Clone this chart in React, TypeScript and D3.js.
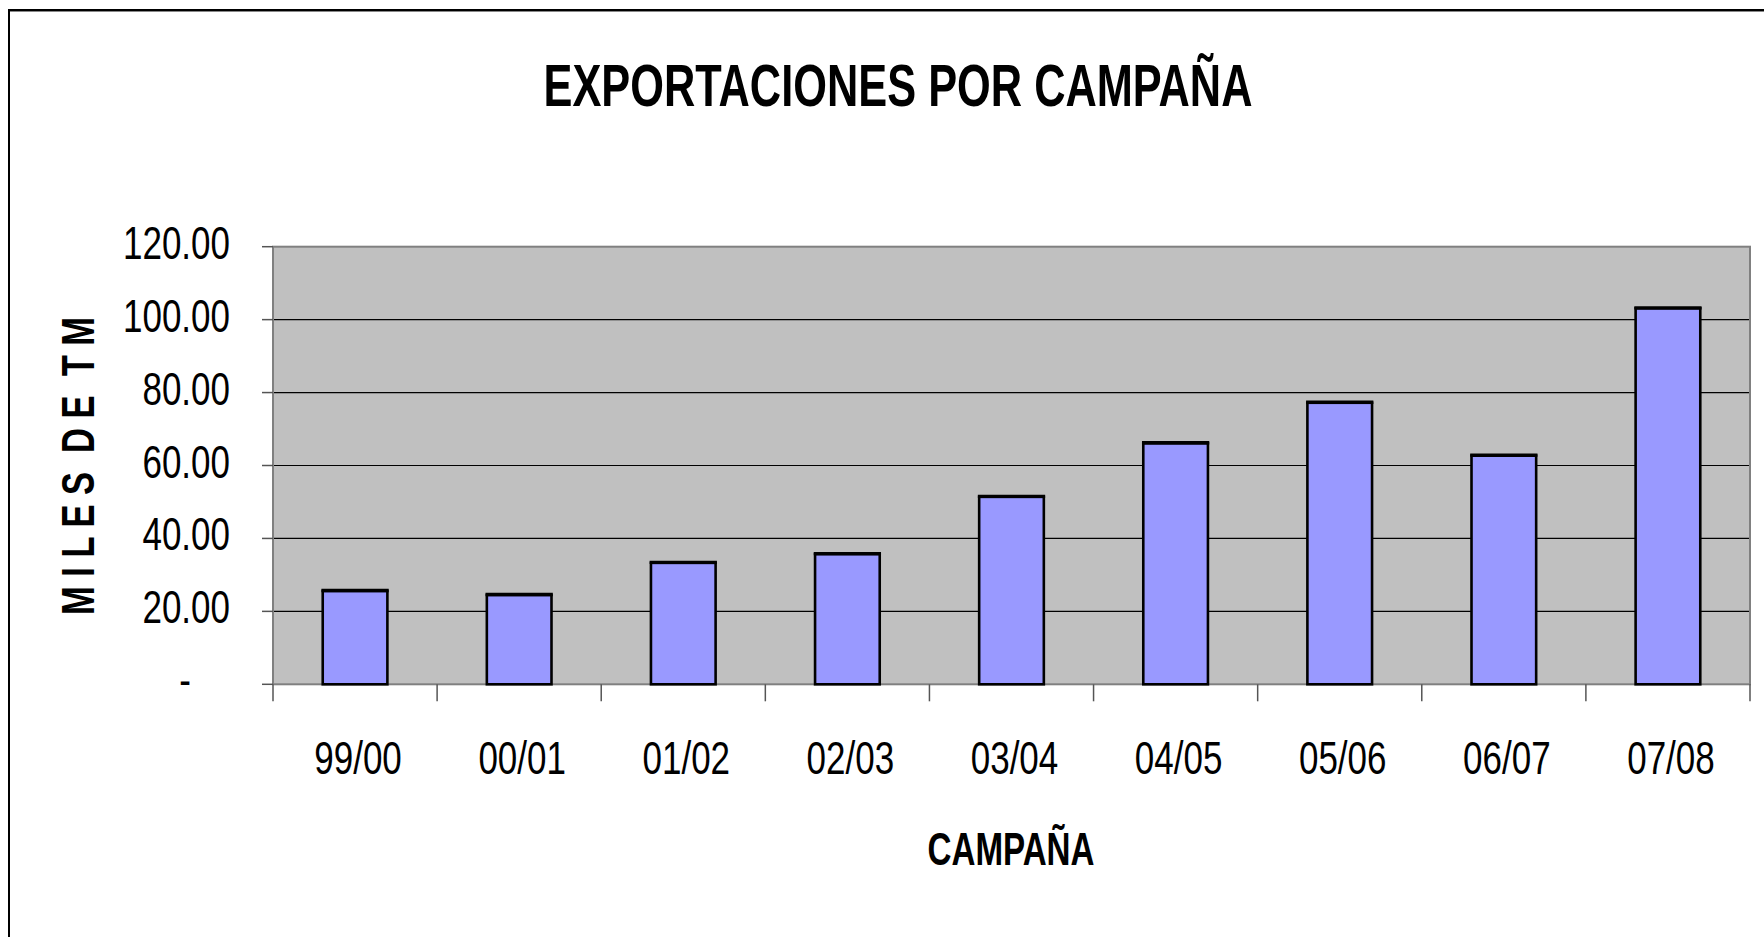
import React, { useEffect, useRef } from 'react';
import * as d3 from 'd3';

const categories = ['99/00', '00/01', '01/02', '02/03', '03/04', '04/05', '05/06', '06/07', '07/08'];
const exportValues = [25.6, 24.5, 33.3, 35.7, 51.4, 66.1, 77.2, 62.7, 103.1];
const yTicks = [0, 20, 40, 60, 80, 100, 120];
const chartTitle = 'EXPORTACIONES POR CAMPAÑA';
const xAxisTitle = 'CAMPAÑA';
const yAxisTitle = 'M I L E S \u00A0D E \u00A0T M';

const NARROW = '"Liberation Sans Narrow", "Arial Narrow", "Liberation Sans", Arial, sans-serif';

export default function App() {
  const ref = useRef<SVGSVGElement>(null);
  useEffect(() => {
    const svg = d3.select(ref.current as SVGSVGElement);
    svg.selectAll('*').remove();
    const W = 1764, H = 937;
    const left = 273, right = 1750, top = 246.7, bottom = 684.3;

    const x = d3.scaleBand<string>().domain(categories).range([left, right]).paddingInner(0.606).paddingOuter(0.303);
    const y = d3.scaleLinear().domain([0, 120]).range([bottom, top]);

    svg.append('rect').attr('x', 0).attr('y', 0).attr('width', W).attr('height', H).attr('fill', '#ffffff');

    // outer chart border (extends past the window on right/bottom)
    svg.append('rect').attr('x', 9).attr('y', 10).attr('width', 1800).attr('height', 1000)
      .attr('fill', 'none').attr('stroke', '#000').attr('stroke-width', 2);
    svg.append('line').attr('x1', 10).attr('x2', W).attr('y1', 11.5).attr('y2', 11.5).attr('stroke', '#888').attr('stroke-width', 1);

    // plot area
    svg.append('rect').attr('x', left).attr('y', top).attr('width', right - left).attr('height', bottom - top).attr('fill', '#C0C0C0');

    // gridlines
    svg.append('g').selectAll('line').data(yTicks.filter(t => t > 0 && t < 120)).join('line')
      .attr('x1', left).attr('x2', right).attr('y1', d => y(d)).attr('y2', d => y(d))
      .attr('stroke', '#000').attr('stroke-width', 1.2);

    // plot border
    svg.append('rect').attr('x', left).attr('y', top).attr('width', right - left).attr('height', bottom - top)
      .attr('fill', 'none').attr('stroke', '#808080').attr('stroke-width', 2);

    // bars
    const bars = svg.append('g');
    bars.selectAll('rect').data(exportValues).join('rect')
      .attr('x', (_, i) => x(categories[i]) as number)
      .attr('y', d => y(d))
      .attr('width', x.bandwidth())
      .attr('height', d => y(0) - y(d))
      .attr('fill', '#9999FF').attr('stroke', '#000').attr('stroke-width', 2.6);
    // slightly heavier top edge, as in the reference
    bars.selectAll('line').data(exportValues).join('line')
      .attr('x1', (_, i) => (x(categories[i]) as number) - 1.3)
      .attr('x2', (_, i) => (x(categories[i]) as number) + x.bandwidth() + 1.3)
      .attr('y1', d => y(d) - 0.5).attr('y2', d => y(d) - 0.5)
      .attr('stroke', '#000').attr('stroke-width', 3.4);

    // y ticks
    svg.append('g').selectAll('line').data(yTicks).join('line')
      .attr('x1', left - 11).attr('x2', left).attr('y1', d => y(d)).attr('y2', d => y(d))
      .attr('stroke', '#555').attr('stroke-width', 1.5);

    // x ticks at category boundaries
    const bounds = d3.range(categories.length + 1).map(i => left + i * x.step());
    svg.append('g').selectAll('line').data(bounds).join('line')
      .attr('x1', d => d).attr('x2', d => d).attr('y1', bottom).attr('y2', bottom + 17)
      .attr('stroke', '#555').attr('stroke-width', 1.5);

    // measure to set horizontal compression of tick font
    const probe = svg.append('text').attr('font-family', NARROW).attr('font-size', 46).text('120.00');
    const probeW = (probe.node() as SVGTextElement).getComputedTextLength();
    probe.remove();
    const sx = 107 / probeW;

    // y tick labels
    svg.append('g').selectAll('text').data(yTicks).join('text')
      .attr('font-family', NARROW).attr('font-size', 46).attr('fill', '#000')
      .attr('text-anchor', 'end')
      .attr('transform', d => `translate(${d === 0 ? 191 : 230},${y(d) + 12}) scale(${sx},1)`)
      .text(d => d === 0 ? '-' : d3.format('.2f')(d));

    // x tick labels
    svg.append('g').selectAll('text').data(categories).join('text')
      .attr('font-family', NARROW).attr('font-size', 46).attr('fill', '#000')
      .attr('text-anchor', 'middle')
      .attr('transform', d => `translate(${(x(d) as number) + x.bandwidth() / 2 + 3},774) scale(${sx},1)`)
      .text(d => d);

    // title
    svg.append('text').attr('x', 898).attr('y', 106)
      .attr('font-family', NARROW).attr('font-weight', 'bold').attr('font-size', 59)
      .attr('text-anchor', 'middle').attr('textLength', 709).attr('lengthAdjust', 'spacingAndGlyphs')
      .text(chartTitle);

    // x axis title
    svg.append('text').attr('x', 1011).attr('y', 865)
      .attr('font-family', NARROW).attr('font-weight', 'bold').attr('font-size', 47)
      .attr('text-anchor', 'middle').attr('textLength', 167).attr('lengthAdjust', 'spacingAndGlyphs')
      .text(xAxisTitle);

    // y axis title
    svg.append('text').attr('transform', 'translate(94,466) rotate(-90)')
      .attr('font-family', NARROW).attr('font-weight', 'bold').attr('font-size', 46)
      .attr('text-anchor', 'middle').attr('textLength', 298).attr('lengthAdjust', 'spacingAndGlyphs')
      .text(yAxisTitle);
  }, []);

  return (
    <svg ref={ref} width={1764} height={937}
      style={{ position: 'absolute', left: 0, top: 0, display: 'block' }} />
  );
}
